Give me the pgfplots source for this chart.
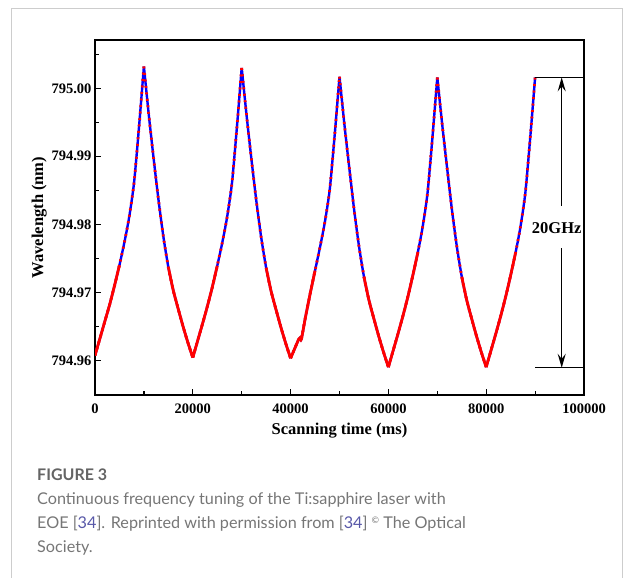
\documentclass[border=0pt]{standalone}
\usepackage{fontspec}
\setmainfont{Liberation Serif}
\newfontfamily\capfont{Lato}
\usepackage{pgfplots}
\usepackage{pgfplotstable}
\pgfplotsset{compat=1.18}
\usetikzlibrary{arrows.meta}
\definecolor{capgray}{RGB}{118,118,118}
\definecolor{reflink}{RGB}{88,88,168}
\definecolor{framegray}{RGB}{205,205,205}

% scan: time (ms), wavelength (nm); nan rows split the branches at the cusps
\pgfplotstableread{
x y
0 794.9607
1000 794.9632
2000 794.9657
3000 794.9682
4000 794.9710
5000 794.9740
6000 794.9773
7000 794.9811
8000 794.9862
9000 794.9943
10000 795.0032
nan nan
10000 795.0032
11000 794.9961
12000 794.9896
13000 794.9835
14000 794.9781
15000 794.9737
16000 794.9703
17000 794.9676
18000 794.9650
19000 794.9626
20000 794.9604
nan nan
20000 794.9604
21000 794.9629
22000 794.9654
23000 794.9680
24000 794.9708
25000 794.9739
26000 794.9772
27000 794.9810
28000 794.9860
29000 794.9941
30000 795.0030
nan nan
30000 795.0030
31000 794.9960
32000 794.9895
33000 794.9834
34000 794.9780
35000 794.9736
36000 794.9702
37000 794.9675
38000 794.9649
39000 794.9625
40000 794.9603
nan nan
40000 794.9603
41000 794.9620
41600 794.9630
41900 794.9633
42200 794.9631
43000 794.9662
44000 794.9698
45000 794.9732
46000 794.9766
47000 794.9803
48000 794.9851
49000 794.9930
50000 795.0017
nan nan
50000 795.0017
51000 794.9947
52000 794.9883
53000 794.9821
54000 794.9767
55000 794.9723
56000 794.9689
57000 794.9662
58000 794.9636
59000 794.9612
60000 794.9590
nan nan
60000 794.9590
61000 794.9615
62000 794.9640
63000 794.9666
64000 794.9694
65000 794.9725
66000 794.9758
67000 794.9796
68000 794.9846
69000 794.9927
70000 795.0016
nan nan
70000 795.0016
71000 794.9947
72000 794.9883
73000 794.9821
74000 794.9767
75000 794.9723
76000 794.9689
77000 794.9662
78000 794.9636
79000 794.9612
80000 794.9590
nan nan
80000 794.9590
81000 794.9615
82000 794.9640
83000 794.9666
84000 794.9694
85000 794.9725
86000 794.9758
87000 794.9796
88000 794.9846
89000 794.9927
90000 795.0016
}\scan

\begin{document}
\begin{tikzpicture}[x=1pt,y=1pt]
\path[use as bounding box] (0,0) rectangle (624,-578);
\draw[framegray, line width=1pt] (11.5,-578) -- (11.5,-9) -- (622.8,-9) -- (622.8,-578);

\begin{axis}[
  scale only axis, width=489pt, height=355pt,
  at={(95pt,-395pt)}, anchor=south west,
  xmin=0, xmax=100000, ymin=794.9549, ymax=795.0071,
  xtick={0,20000,40000,60000,80000,100000},
  minor xtick={10000,30000,50000,70000,90000},
  ytick={794.96,794.97,794.98,794.99,795.00},
  minor ytick={794.955,794.965,794.975,794.985,794.995,795.005},
  tick pos=left, tick align=inside,
  major tick length=6pt, minor tick length=4pt,
  every tick/.style={black, line width=1.2pt},
  axis line style={line width=1.5pt},
  scaled x ticks=false, scaled y ticks=false,
  unbounded coords=jump,
  /pgf/number format/assume math mode=true,
  x tick label style={yshift=-5pt, /pgf/number format/.cd, fixed, set thousands separator={}},
  y tick label style={/pgf/number format/.cd, fixed, fixed zerofill, precision=2},
  tick label style={font=\bfseries\fontsize{14.5}{14.5}\selectfont},
  label style={font=\bfseries\fontsize{16.5}{16.5}\selectfont},
  xlabel={Scanning time (ms)},
  ylabel={Wavelength (nm)},
  xlabel style={yshift=-3pt},
  ylabel style={yshift=-2pt},
]
\addplot[blue, line width=2.4pt, smooth, tension=0.4] table {\scan};
\addplot[red, line width=2.8pt, smooth, tension=0.4, restrict y to domain=794.95:794.9755] table {\scan};
\addplot[red, line width=2.8pt, smooth, tension=0.4, dash pattern=on 2pt off 4.5pt] table {\scan};

\draw[black, line width=1.3pt] (axis cs:90000,795.0016) -- (axis cs:100000,795.0016);
\draw[black, line width=1.3pt] (axis cs:90000,794.9589) -- (axis cs:100000,794.9589);
\draw[black, line width=1.3pt, -{Stealth[length=14pt,width=8pt,inset=5pt]}]
  (axis cs:95440,794.9827) -- (axis cs:95440,795.0016);
\draw[black, line width=1.3pt, -{Stealth[length=14pt,width=8pt,inset=5pt]}]
  (axis cs:95440,794.9765) -- (axis cs:95440,794.9589);
\node[font=\bfseries\fontsize{16.5}{16.5}\selectfont, inner sep=0pt]
  at (axis cs:94420,794.9794) {20GHz};
\end{axis}

\node[anchor=base west, inner sep=0pt, text=capgray!85!black, font=\capfont\bfseries\fontsize{16}{16}\selectfont]
  at (37,-480) {FIGURE 3};
\node[anchor=base west, inner sep=0pt, text=capgray, font=\capfont\fontsize{16.2}{16.2}\selectfont]
  at (37,-504) {Continuous frequency tuning of the Ti:sapphire laser with};
\node[anchor=base west, inner sep=0pt, text=capgray, font=\capfont\fontsize{16.2}{16.2}\selectfont]
  at (37,-528.5) {EOE [\textcolor{reflink}{34}]. Reprinted with permission from [\textcolor{reflink}{34}] \raisebox{5pt}{\fontsize{9}{9}\selectfont ©} The Optical};
\node[anchor=base west, inner sep=0pt, text=capgray, font=\capfont\fontsize{16.2}{16.2}\selectfont]
  at (37,-552.5) {Society.};
\end{tikzpicture}
\end{document}
